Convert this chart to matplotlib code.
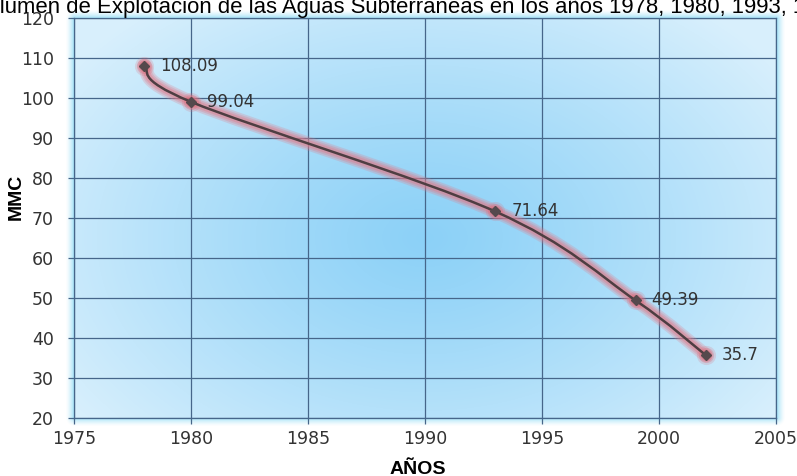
import numpy as np
import matplotlib.pyplot as plt
from matplotlib.path import Path
from matplotlib.patches import PathPatch

# data
years = [1978, 1980, 1993, 1999, 2002]
mmc = [108.09, 99.04, 71.64, 49.39, 35.7]
point_labels = ['108.09', '99.04', '71.64', '49.39', '35.7']
x_ticks = [1975, 1980, 1985, 1990, 1995, 2000, 2005]
y_ticks = [20, 30, 40, 50, 60, 70, 80, 90, 100, 110, 120]
title = 'Volumen de Explotación de las Aguas Subterráneas en los años 1978, 1980, 1993, 1999 y 2002'

W, H = 797, 476
fig = plt.figure(figsize=(W / 100, H / 100), dpi=100)
fig.patch.set_facecolor('white')

L, R, T, B = 74, 776, 18, 418
ax = fig.add_axes([L / W, 1 - B / H, (R - L) / W, (B - T) / H])

# soft cyan glow around the plot area
g = 9
gax = fig.add_axes([(L - g) / W, 1 - (B + g) / H, (R - L + 2 * g) / W, (B - T + 2 * g) / H], zorder=-1)
gw, gh = R - L + 2 * g, B - T + 2 * g
xx, yy = np.meshgrid(np.arange(gw), np.arange(gh))
dx = np.maximum(np.maximum(g - xx, xx - (gw - 1 - g)), 0)
dy = np.maximum(np.maximum(g - yy, yy - (gh - 1 - g)), 0)
d = np.sqrt(dx ** 2 + dy ** 2)
glow = np.zeros((gh, gw, 4))
glow[..., 0] = 0.62
glow[..., 1] = 0.88
glow[..., 2] = 0.97
glow[..., 3] = np.clip(1 - d / g, 0, 1) ** 1.5
gax.imshow(glow, aspect='auto', interpolation='bilinear')
gax.axis('off')

# radial blue background
ny, nx = 200, 300
u, v = np.meshgrid(np.linspace(0, 1, nx), np.linspace(1, 0, ny))
r = np.sqrt(((u - 0.5) / 0.62) ** 2 + ((v - 0.45) / 0.75) ** 2)
r = np.clip(r, 0, 1)
c_in = np.array([0.55, 0.82, 0.97])
c_out = np.array([0.85, 0.94, 0.99])
img = c_in + (c_out - c_in) * r[..., None] ** 1.2
ax.imshow(img, extent=(0, 1, 0, 1), transform=ax.transAxes, aspect='auto',
          interpolation='bilinear', zorder=0)

ax.set_xlim(1975, 2005)
ax.set_ylim(20, 120)
ax.set_xticks(x_ticks)
ax.set_yticks(y_ticks)
grid_c = '#46668a'
ax.grid(True, color=grid_c, lw=0.9, zorder=1)
for s in ax.spines.values():
    s.set_color(grid_c)
    s.set_linewidth(0.9)
ax.tick_params(axis='both', colors=grid_c, labelcolor='#333333', labelsize=12.5, width=0.9)
ax.tick_params(axis='y', length=4.5, pad=10)
ax.tick_params(axis='x', length=4.5, pad=4)
ax.set_axisbelow(True)

# smoothed line (Excel style) as cubic bezier through the points
pts = np.column_stack([years, mmc]).astype(float)
ext = np.vstack([pts[0], pts, pts[-1]])
verts = [pts[0]]
codes = [Path.MOVETO]
for i in range(len(pts) - 1):
    p0, p1, p2, p3 = ext[i], ext[i + 1], ext[i + 2], ext[i + 3]
    verts += [p1 + (p2 - p0) / 6, p2 - (p3 - p1) / 6, p2]
    codes += [Path.CURVE4] * 3
path = Path(verts, codes)

for lw, a in [(10, 0.25), (7.5, 0.3), (5, 0.4)]:
    ax.add_patch(PathPatch(path, fill=False, lw=lw, ec='#e27a88', alpha=a,
                           capstyle='round', joinstyle='round', zorder=3))
for s, a in [(190, 0.2), (120, 0.3), (70, 0.35)]:
    ax.scatter(years, mmc, s=s, color='#de6a78', alpha=a, lw=0, zorder=3)
ax.add_patch(PathPatch(path, fill=False, lw=1.8, ec='#4e3e42', zorder=4))
ax.plot(years, mmc, ls='none', marker='D', ms=5.5, color='#55494c', zorder=5)

for xv, yv, t in zip(years, mmc, point_labels):
    ax.annotate(t, (xv, yv), xytext=(11.5, 0), textcoords='offset points',
                va='center', ha='left', fontsize=12, color='#333333', zorder=6)

fig.text(-0.032, 1 - 12.5 / H, title, fontsize=15.9, family='Liberation Sans',
         color='black', va='baseline', ha='left')
fig.text(16 / W, 1 - 197 / H, 'MMC', rotation=90, fontsize=14, fontweight='bold',
         family='Liberation Sans', va='center', ha='center')
fig.text(418 / W, 1 - 470 / H, 'AÑOS', fontsize=14, fontweight='bold',
         family='Liberation Sans', va='center', ha='center')

fig.savefig('out.png', dpi=100)
